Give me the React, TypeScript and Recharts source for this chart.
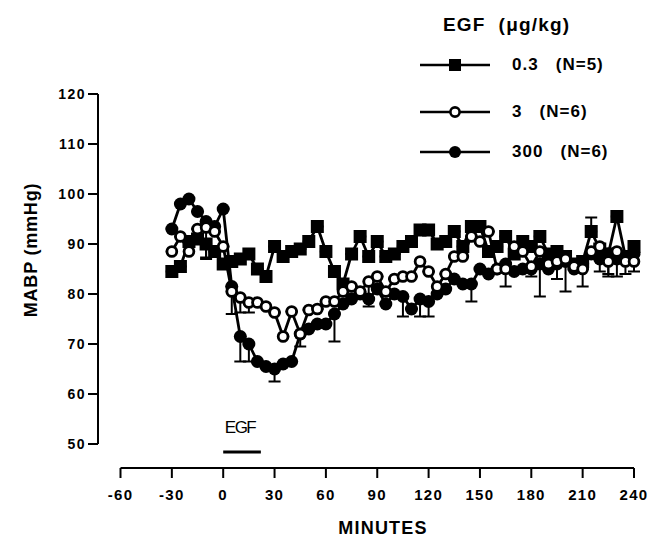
import React from 'react';
import { LineChart, Line, XAxis, YAxis, ErrorBar, ReferenceLine, Legend } from 'recharts';

if (typeof document !== 'undefined') {
  document.body.style.margin = '0';
}

const FONT = '"Liberation Sans", Arial, Helvetica, sans-serif';

// minutes
const TIMES = [
  -30, -25, -20, -15, -10, -5, 0, 5, 10, 15, 20, 25, 30, 35, 40, 45, 50, 55, 60,
  65, 70, 75, 80, 85, 90, 95, 100, 105, 110, 115, 120, 125, 130, 135, 140, 145, 150,
  155, 160, 165, 170, 175, 180, 185, 190, 195, 200, 205, 210, 215, 220, 225, 230, 235, 240,
];

// EGF 0.3 ug/kg (filled squares)
const DOSE_03 = [
  84.5, 85.5, 90.5, 91, 90, 88.5, 86, 86.5, 87, 88, 85, 83.5, 89.5, 87.5, 88.5, 89, 90.5, 93.5, 88.5,
  84.5, 82, 88, 91.5, 87.5, 90.5, 87.5, 88, 89.5, 90.5, 92.8, 92.8, 90, 90.5, 92.5, 89.5, 93.5, 93.5,
  88.5, 89.5, 91.5, 88, 90.5, 89.5, 91.5, 88, 88.5, 87.5, 86, 86.5, 92.5, 89, 88, 95.5, 87.5, 89.5,
];
const DOSE_03_ERR_LO = [
  0, 0, 0, 0, 3, 0, 0, 0, 0, 0, 0, 0, 0, 0, 0, 0, 0, 0, 0,
  0, 0, 0, 0, 0, 0, 0, 0, 0, 0, 0, 0, 0, 0, 0, 0, 0, 0,
  0, 0, 0, 0, 0, 0, 0, 0, 0, 0, 0, 0, 0, 0, 4, 0, 3.5, 0,
];
const DOSE_03_ERR_HI = [
  0, 0, 0, 0, 0, 0, 0, 0, 0, 0, 0, 0, 0, 0, 0, 0, 0, 0, 0,
  0, 0, 0, 0, 0, 0, 0, 0, 0, 0, 0, 0, 0, 0, 0, 0, 0, 0,
  0, 0, 0, 0, 0, 0, 0, 0, 0, 0, 0, 0, 2.8, 0, 0, 0, 0, 0,
];

// EGF 3 ug/kg (open circles)
const DOSE_3 = [
  88.5, 91.5, 88.5, 93, 93.3, 92.5, 89.5, 80.5, 79.3, 78.3, 78.3, 77.5, 76.3, 71.5, 76.5, 72, 76.8, 77, 78.5,
  78.5, 80.5, 81.5, 80.5, 82.5, 83.5, 80.5, 83, 83.5, 83.5, 86.5, 84.5, 81.5, 84, 87.5, 87.5, 91.5, 90.5,
  92.5, 85, 85, 89.5, 88.5, 85.5, 88.5, 86, 86.5, 87, 85.5, 85, 88.5, 89.5, 86.5, 88.5, 86.5, 86.5,
];
const DOSE_3_ERR = [
  0, 0, 0, 0, 6, 0, 0, 4.5, 3, 2, 0, 0, 0, 0, 0, 2.5, 0, 0, 0,
  0, 0, 0, 0, 5, 0, 0, 0, 0, 0, 0, 0, 0, 0, 0, 0, 0, 0,
  0, 0, 3.5, 0, 0, 2, 0, 0, 0, 0, 0, 0, 0, 5, 3, 5, 0, 2,
];

// EGF 300 ug/kg (filled circles)
const DOSE_300 = [
  93, 98, 99, 96.5, 94.5, 93.5, 97, 81.5, 71.5, 70, 66.5, 65.5, 65, 66, 66.5, 72, 73, 74, 74,
  76, 78, 79, 80, 79, 81, 78, 80, 79.5, 77, 79, 78.5, 80, 81, 83, 82, 82, 85,
  84, 85, 86, 84.5, 85, 85, 86, 85, 86, 86.5, 85, 86, 88, 87, 88, 87, 87, 88,
];
const DOSE_300_ERR = [
  0, 0, 0, 0, 0, 0, 0, 0, 5, 3.5, 0, 0, 2.5, 0, 0, 0, 0, 0, 0,
  5.5, 0, 0, 0, 0, 0, 0, 0, 4, 0, 3.5, 3, 0, 0, 0, 0, 3.5, 0,
  0, 0, 0, 0, 0, 0, 6.5, 0, 3, 6, 0, 4.5, 0, 0, 0, 0, 0, 0,
];

const X_TICKS = [-60, -30, 0, 30, 60, 90, 120, 150, 180, 210, 240];
const Y_TICKS = [50, 60, 70, 80, 90, 100, 110, 120];
const LEGEND_TITLE = 'EGF  (\u03bcg/kg)';
const SERIES_DOSES = ['0.3', '3', '300'];
const SERIES_N = ['(N=5)', '(N=6)', '(N=6)'];
const SERIES_GAPS = ['   ', '   ', '   '];
const EGF_PERIOD = [0, 22];
const EGF_LABEL = 'EGF';
const EGF_BAR_LEVEL = 48.4;

const data = TIMES.map((t, i) => ({
  t,
  d03: DOSE_03[i],
  d3: DOSE_3[i],
  d300: DOSE_300[i],
  e03: [DOSE_03_ERR_LO[i], DOSE_03_ERR_HI[i]],
  e3: [DOSE_3_ERR[i], 0],
  e300: [DOSE_300_ERR[i], 0],
}));

const SquareDot = (p: any) =>
  p.cx == null ? null : (
    <rect key={`sq-${p.index}`} x={p.cx - 6.5} y={p.cy - 6.5} width={13} height={13} fill="#000" />
  );
const OpenDot = (p: any) =>
  p.cx == null ? null : (
    <circle key={`oc-${p.index}`} cx={p.cx} cy={p.cy} r={4.9} fill="#fff" stroke="#000" strokeWidth={2.8} />
  );
const FilledDot = (p: any) =>
  p.cx == null ? null : <circle key={`fc-${p.index}`} cx={p.cx} cy={p.cy} r={6.5} fill="#000" />;

const XTick = (p: any) => (
  <text
    x={p.x}
    y={p.y + 20}
    textAnchor="middle"
    fontFamily={FONT}
    fontWeight="bold"
    fontSize={15}
    letterSpacing={1.3}
    fill="#000"
  >
    {p.payload.value}
  </text>
);

const YTick = (p: any) => (
  <text
    x={p.x}
    y={p.y + 5}
    textAnchor="end"
    fontFamily={FONT}
    fontWeight="bold"
    fontSize={14}
    letterSpacing={1.5}
    fill="#000"
  >
    {p.payload.value}
  </text>
);

const EgfLabel = (p: any) => {
  const vb = p.viewBox || {};
  const x = (vb.x ?? 0) + (vb.width ?? 0) / 2;
  const y = (vb.y ?? 0) - 19;
  return (
    <text x={x - 2} y={y} textAnchor="middle" fontFamily={FONT} fontSize={17} letterSpacing={-1.5} fill="#000">
      {EGF_LABEL}
    </text>
  );
};

const LegendMarker = ({ kind }: { kind: number }) => (
  <svg width={72} height={16} style={{ display: 'block' }}>
    <line x1={0} y1={8} x2={70} y2={8} stroke="#000" strokeWidth={2.5} />
    {kind === 0 && <rect x={29} y={2} width={12} height={12} fill="#000" />}
    {kind === 1 && <circle cx={35} cy={8} r={4.6} fill="#fff" stroke="#000" strokeWidth={2.6} />}
    {kind === 2 && <circle cx={35} cy={8} r={6} fill="#000" />}
  </svg>
);

const LEGEND_ROW_TOPS = [55, 102, 142];

const renderLegend = () => (
  <div style={{ position: 'relative', width: 250, height: 170, fontFamily: FONT, fontWeight: 'bold', color: '#000' }}>
    <div style={{ position: 'absolute', left: 43, top: 13, fontSize: 19, letterSpacing: 1.2, whiteSpace: 'pre', lineHeight: '24px' }}>
      {LEGEND_TITLE}
    </div>
    {SERIES_DOSES.map((dose, i) => (
      <div
        key={dose}
        style={{ position: 'absolute', left: 20, top: LEGEND_ROW_TOPS[i], height: 20, display: 'flex', alignItems: 'center' }}
      >
        <LegendMarker kind={i} />
        <span style={{ marginLeft: 20, fontSize: 17, letterSpacing: 1, whiteSpace: 'pre', lineHeight: '20px' }}>
          {dose + SERIES_GAPS[i] + SERIES_N[i]}
        </span>
      </div>
    ))}
  </div>
);

export default function App() {
  return (
    <div style={{ position: 'relative', width: 650, height: 540, background: '#fff' }}>
      <LineChart
        width={650}
        height={540}
        data={data}
        margin={{ top: 94, right: 16, bottom: 0, left: 0 }}
      >
        <XAxis
          type="number"
          dataKey="t"
          domain={[-60, 240]}
          ticks={X_TICKS}
          interval={0}
          padding={{ left: 22.5, right: 0 }}
          height={72}
          tickSize={10}
          tickMargin={2}
          tickLine={{ stroke: '#000', strokeWidth: 2 }}
          axisLine={{ stroke: '#000', strokeWidth: 2, strokeDasharray: '0 22.5 1000' }}
          tick={XTick}
          label={{
            content: () => (
              <text x={383} y={534} textAnchor="middle" fontFamily={FONT} fontWeight="bold" fontSize={18} letterSpacing={1.2} fill="#000">
                MINUTES
              </text>
            ),
          }}
        />
        <YAxis
          type="number"
          domain={[50, 120]}
          ticks={Y_TICKS}
          interval={0}
          padding={{ top: 0, bottom: 24 }}
          width={98}
          tickSize={10}
          tickMargin={2}
          tickLine={{ stroke: '#000', strokeWidth: 2 }}
          axisLine={{ stroke: '#000', strokeWidth: 2, strokeDasharray: '350 1000' }}
          tick={YTick}
          label={{
            content: () => (
              <text
                transform="translate(37,250) rotate(-90)"
                textAnchor="middle"
                fontFamily={FONT}
                fontWeight="bold"
                fontSize={18}
                letterSpacing={0.8}
                fill="#000"
              >
                MABP (mmHg)
              </text>
            ),
          }}
        />
        <ReferenceLine
          segment={[
            { x: EGF_PERIOD[0], y: EGF_BAR_LEVEL },
            { x: EGF_PERIOD[1], y: EGF_BAR_LEVEL },
          ]}
          stroke="#000"
          strokeWidth={3}
          ifOverflow="visible"
          label={{ content: EgfLabel }}
        />
        <Line
          type="linear"
          dataKey="d03"
          stroke="#000"
          strokeWidth={2.8}
          dot={SquareDot}
          activeDot={false}
          isAnimationActive={false}
        >
          <ErrorBar dataKey="e03" direction="y" width={6} stroke="#000" strokeWidth={2} isAnimationActive={false} />
        </Line>
        <Line
          type="linear"
          dataKey="d300"
          stroke="#000"
          strokeWidth={2.8}
          dot={FilledDot}
          activeDot={false}
          isAnimationActive={false}
        >
          <ErrorBar dataKey="e300" direction="y" width={6} stroke="#000" strokeWidth={2} isAnimationActive={false} />
        </Line>
        <Line
          type="linear"
          dataKey="d3"
          stroke="#000"
          strokeWidth={2.8}
          dot={OpenDot}
          activeDot={false}
          isAnimationActive={false}
        >
          <ErrorBar dataKey="e3" direction="y" width={6} stroke="#000" strokeWidth={2} isAnimationActive={false} />
        </Line>
        <Legend
          layout="vertical"
          align="center"
          verticalAlign="middle"
          content={renderLegend}
          wrapperStyle={{ position: 'absolute', left: 400, top: 0, width: 250, height: 170 }}
        />
      </LineChart>
    </div>
  );
}
